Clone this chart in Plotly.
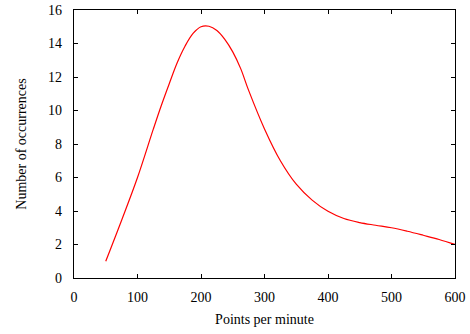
import plotly.graph_objects as go

points_per_minute = [50, 75, 100, 125, 137.5, 150, 162.5, 175, 187.5, 200, 212.5, 225,
                     237.5, 250, 262.5, 275, 300, 325, 350, 375, 400, 425, 450, 475,
                     500, 525, 550, 575, 600]
occurrences = [1.0, 3.45, 6.0, 8.9, 10.3, 11.6, 12.85, 13.85, 14.6, 15.0, 15.03, 14.78,
               14.25, 13.5, 12.5, 11.2, 8.9, 7.0, 5.6, 4.65, 3.98, 3.55, 3.31, 3.15,
               3.0, 2.79, 2.55, 2.3, 2.0]

x_ticks = [0, 100, 200, 300, 400, 500, 600]
y_ticks = [0, 2, 4, 6, 8, 10, 12, 14, 16]

fig = go.Figure()
fig.add_trace(go.Scatter(
    x=points_per_minute, y=occurrences, mode="lines",
    line=dict(color="#ff0000", width=1.2, shape="spline", smoothing=1.0),
    showlegend=False,
))

font = dict(family="Liberation Serif, Times New Roman, serif", size=14, color="black")
axis_common = dict(
    showgrid=False, zeroline=False, showline=True, linecolor="black", linewidth=1.2,
    mirror="ticks", ticks="inside", ticklen=4, tickwidth=1, tickcolor="black",
    tickfont=font, automargin=False,
)
fig.update_layout(
    width=470, height=334,
    margin=dict(l=74, r=15, t=10, b=56),
    paper_bgcolor="white", plot_bgcolor="white",
    font=font,
    xaxis=dict(range=[0, 600], tickvals=x_ticks, ticklabelstandoff=6,
               title=dict(text="Points per minute", font=font, standoff=10), **axis_common),
    yaxis=dict(range=[0, 16], tickvals=y_ticks, ticklabelstandoff=8,
               title=dict(text="Number of occurrences", font=font, standoff=18), **axis_common),
)
fig.write_html("out.html", config={"displayModeBar": False},
               post_script="document.body.style.margin='0';")
